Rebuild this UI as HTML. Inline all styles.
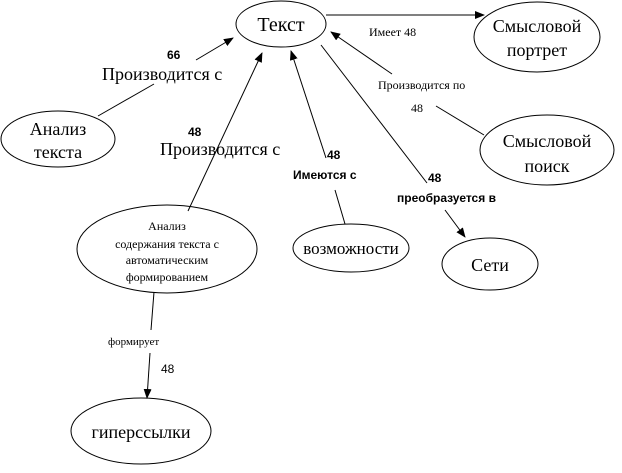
<!DOCTYPE html>
<html><head><meta charset="utf-8"><style>
html,body{margin:0;padding:0;background:#fff;}
svg{display:block;}
.s{font-family:"Liberation Serif","DejaVu Serif",serif;fill:#000;}
.a{font-family:"Liberation Sans","DejaVu Sans",sans-serif;fill:#000;font-weight:bold;}
</style></head><body>
<svg width="622" height="473" viewBox="0 0 622 473" xmlns="http://www.w3.org/2000/svg">
<defs><marker id="ar" markerWidth="10" markerHeight="8" refX="9" refY="4" orient="auto" markerUnits="userSpaceOnUse"><path d="M0,0 L10,4 L0,8 z" fill="#000"/></marker></defs>
<g fill="none" stroke="#000" stroke-width="1">
<ellipse cx="281" cy="24" rx="45" ry="23"/>
<ellipse cx="537" cy="37" rx="63" ry="35"/>
<ellipse cx="547" cy="150" rx="67" ry="35"/>
<ellipse cx="490" cy="264" rx="48" ry="26"/>
<ellipse cx="351" cy="248" rx="58" ry="24"/>
<ellipse cx="58" cy="139" rx="57" ry="28"/>
<ellipse cx="167" cy="249" rx="90" ry="44"/>
<ellipse cx="141" cy="431" rx="70" ry="33"/>
<line x1="326" y1="15" x2="484" y2="15" marker-end="url(#ar)"/>
<line x1="392" y1="74" x2="331" y2="32" marker-end="url(#ar)"/>
<line x1="436" y1="106" x2="484" y2="135"/>
<line x1="196" y1="60" x2="233" y2="38" marker-end="url(#ar)"/>
<line x1="98" y1="116" x2="154" y2="84"/>
<line x1="188" y1="211" x2="262" y2="53" marker-end="url(#ar)"/>
<line x1="326" y1="158" x2="291" y2="51" marker-end="url(#ar)"/>
<line x1="335" y1="190" x2="345" y2="224"/>
<line x1="321" y1="45" x2="427" y2="183"/>
<line x1="445" y1="210" x2="465" y2="237" marker-end="url(#ar)"/>
<line x1="154" y1="292" x2="151" y2="330"/>
<line x1="150" y1="353" x2="147" y2="398" marker-end="url(#ar)"/>
</g>
<text class="s" x="281" y="31" font-size="20" text-anchor="middle">Текст</text>
<text class="s" x="537" y="32" font-size="18" text-anchor="middle">Смысловой</text>
<text class="s" x="537" y="56" font-size="18" text-anchor="middle">портрет</text>
<text class="s" x="547" y="147" font-size="18" text-anchor="middle">Смысловой</text>
<text class="s" x="547" y="172" font-size="18" text-anchor="middle">поиск</text>
<text class="s" x="490" y="271" font-size="18" text-anchor="middle">Сети</text>
<text class="s" x="351" y="254" font-size="17" text-anchor="middle">возможности</text>
<text class="s" x="58" y="135" font-size="18" text-anchor="middle">Анализ</text>
<text class="s" x="58" y="158" font-size="18" text-anchor="middle">текста</text>
<text class="s" x="167" y="230" font-size="12" text-anchor="middle">Анализ</text>
<text class="s" x="167" y="248" font-size="12" text-anchor="middle">содержания текста с</text>
<text class="s" x="167" y="264" font-size="12" text-anchor="middle">автоматическим</text>
<text class="s" x="167" y="281" font-size="12" text-anchor="middle">формированием</text>
<text class="s" x="141" y="438" font-size="18" text-anchor="middle">гиперссылки</text>
<text class="s" x="369" y="36" font-size="12">Имеет  48</text>
<text class="s" x="378" y="89" font-size="12">Производится по</text>
<text class="s" x="411" y="112" font-size="12" font-family="Liberation Sans">48</text>
<text class="a" x="167" y="59" font-size="12">66</text>
<text class="s" x="102" y="80" font-size="18">Производится с</text>
<text class="a" x="188" y="136" font-size="12">48</text>
<text class="s" x="160" y="155" font-size="18">Производится с</text>
<text class="a" x="327" y="159" font-size="12">48</text>
<text class="a" x="293" y="179" font-size="12">Имеются с</text>
<text class="a" x="428" y="182" font-size="12">48</text>
<text class="a" x="397" y="202" font-size="12">преобразуется в</text>
<text class="s" x="108" y="345" font-size="11">формирует</text>
<text x="161" y="373" font-size="12" font-family="Liberation Sans" fill="#000">48</text>
</svg>
</body></html>
